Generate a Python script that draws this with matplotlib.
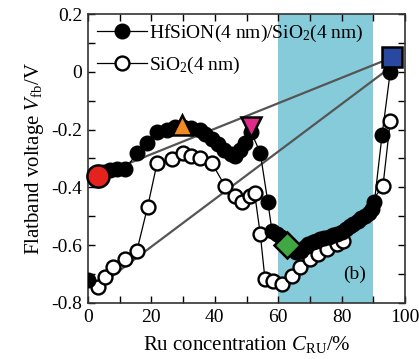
import matplotlib
matplotlib.use("Agg")
import matplotlib.pyplot as plt

plt.rcParams['font.family'] = ['Liberation Serif', 'DejaVu Serif']
plt.rcParams['mathtext.fontset'] = 'custom'
plt.rcParams['mathtext.rm'] = 'Liberation Serif'
plt.rcParams['mathtext.it'] = 'Liberation Serif:italic'

# --------------------------------------------------------------
# data
# HfSiON(4 nm)/SiO2(4 nm), filled circles
hf_x = [3, 5, 7, 9, 11.7, 15.5, 18.6, 21.8, 25, 27.5, 30, 32.5, 35.3, 37, 39, 41, 43, 45, 46.4, 48,
        49.5, 51.5, 54.3,
        56.7, 58, 59.5, 61, 62.7, 64.2, 65.5, 67, 68.3, 69.5, 70.8, 72, 73.3, 74.5, 76, 77.3, 78.5,
        80, 81.3, 82.5, 83.6, 85, 86.2, 87.4, 88.5, 89.5, 90.3, 92.7, 95.3]
hf_y = [-0.36, -0.345, -0.34, -0.335, -0.338, -0.28, -0.245, -0.207, -0.2, -0.19, -0.19, -0.195,
        -0.2, -0.215, -0.234, -0.25, -0.27, -0.285, -0.293, -0.27, -0.245, -0.21, -0.28,
        -0.45, -0.55, -0.56, -0.57, -0.6, -0.61, -0.625, -0.62, -0.605, -0.595, -0.59, -0.585,
        -0.58, -0.575, -0.57, -0.565, -0.56, -0.555, -0.545, -0.535, -0.525, -0.515, -0.505,
        -0.5, -0.49, -0.475, -0.45, -0.22, 0.0]
hf_x0 = [0]
hf_y0 = [-0.72]

# SiO2(4 nm), open circles
si_x = [3, 5.4, 8, 11.7, 15.4, 18.8, 21.8, 26.5, 30, 32.5, 35.3, 39, 43.2, 46.4, 48.5, 51, 52.5,
        54.3, 55.8, 58.4, 61.2, 64.4, 66.9, 70, 72.6, 75.4, 78.5, 80.4, 93, 95.3]
si_y = [-0.745, -0.71, -0.677, -0.648, -0.62, -0.467, -0.315, -0.303, -0.28, -0.29, -0.297, -0.315,
        -0.395, -0.43, -0.45, -0.43, -0.418,
        -0.56, -0.717, -0.725, -0.735, -0.707, -0.676, -0.648, -0.63, -0.614, -0.597, -0.586,
        -0.395, -0.17]

# highlighted points
hl_x = [3, 29.6, 51.5, 62.7, 96]
hl_y = [-0.36, -0.183, -0.19, -0.6, 0.05]
hl_marker = ['o', '^', 'v', 'D', 's']
hl_color = ['#e4221e', '#f08a24', '#df2a8c', '#3fa843', '#2a48a0']
hl_size = [16, 15, 15, 13, 15]

# gray guide lines
guide1_x = [3, 96]
guide1_y = [-0.36, 0.05]
guide2_x = [3, 93.5]
guide2_y = [-0.745, 0.0]

band = (60, 90)

# --------------------------------------------------------------
fig = plt.figure(figsize=(4.19, 3.59), dpi=100)
ax = fig.add_axes([0.21, 0.156, 0.757, 0.805])

ax.axvspan(band[0], band[1], color='#86cbd9', zorder=0, lw=0)

ax.plot(guide1_x, guide1_y, color='#555555', lw=1.6, zorder=2)
ax.plot(guide2_x, guide2_y, color='#555555', lw=1.6, zorder=2)

ax.plot(si_x, si_y, '-o', color='black', lw=0.9, ms=10, mfc='white', mec='black', mew=1.7,
        zorder=3, label='SiO$_2$(4 nm)')
ax.plot(hf_x, hf_y, '-o', color='black', lw=0.9, ms=10.5, mfc='black', mec='black',
        zorder=4, label='HfSiON(4 nm)/SiO$_2$(4 nm)')
ax.plot(hf_x0, hf_y0, 'o', color='black', ms=10.5, zorder=4)

for x, y, m, c, s in zip(hl_x, hl_y, hl_marker, hl_color, hl_size):
    ax.plot(x, y, marker=m, color=c, ms=s, mec='black', mew=1.8, zorder=6, clip_on=False)

ax.text(84, -0.7, '(b)', fontsize=14, ha='center', va='center')

ax.set_xlim(0, 100)
ax.set_ylim(-0.8, 0.2)
ax.set_xticks([0, 20, 40, 60, 80, 100])
ax.set_xticks(range(0, 101, 10), minor=True)
ax.set_yticks([-0.8, -0.6, -0.4, -0.2, 0, 0.2])
ax.set_yticklabels(['-0.8', '-0.6', '-0.4', '-0.2', '0', '0.2'])
ax.set_yticks([-0.7, -0.5, -0.3, -0.1, 0.1], minor=True)
ax.tick_params(which='both', direction='in', top=True, right=True, labelsize=14, width=1)
ax.tick_params(which='major', length=5, pad=4)
ax.tick_params(which='minor', length=5)
for sp in ax.spines.values():
    sp.set_linewidth(1.2)
    sp.set_color('#333333')

ax.set_xlabel('Ru concentration $C_{\\rm RU}$/%', fontsize=15, labelpad=6)
ax.set_ylabel('Flatband voltage $V_{\\rm fb}$/V', fontsize=15, labelpad=4)

handles, labels = ax.get_legend_handles_labels()
ax.legend(handles[::-1], labels[::-1], loc='upper left', frameon=False, fontsize=14,
          handlelength=2.6, handletextpad=0.1, borderaxespad=0.05, borderpad=0.4,
          labelspacing=0.55)

fig.savefig('out.png', dpi=100)
